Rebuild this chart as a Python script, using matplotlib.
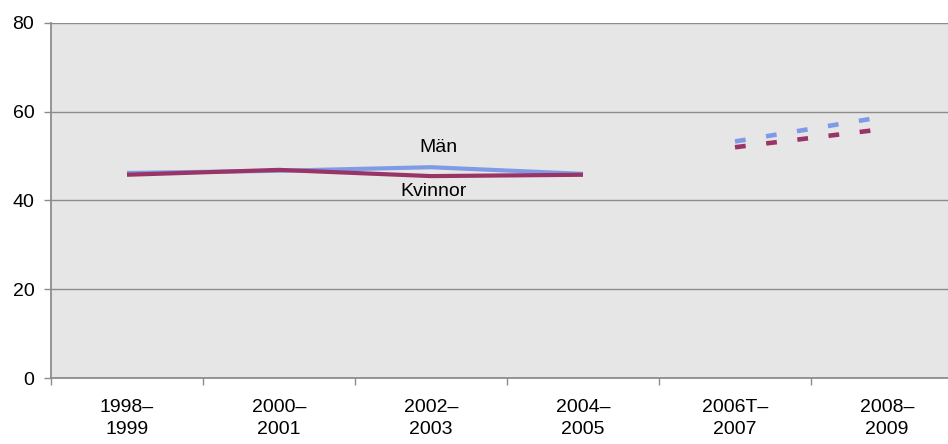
import numpy as np
from matplotlib import pyplot as plt

plt.rcParams['font.family'] = ['Liberation Sans', 'DejaVu Sans']

# data
perioder = ['1998–\n1999', '2000–\n2001', '2002–\n2003', '2004–\n2005', '2006T–\n2007', '2008–\n2009']
man = [46.2, 46.7, 47.5, 46.0, np.nan, np.nan]
kvinnor = [45.8, 46.9, 45.5, 45.8, np.nan, np.nan]
man_prognos = [np.nan, np.nan, np.nan, np.nan, 53.3, 59.0]
kvinnor_prognos = [np.nan, np.nan, np.nan, np.nan, 52.0, 56.2]

blue = '#7f9be6'
red = '#9a3466'
grey = '#8c8c8c'
fs = 14

fig = plt.figure(figsize=(9.48, 4.44), dpi=100)
ax = fig.add_axes([51/948, 66/444, 912/948, 355/444])
ax.set_facecolor('#e6e6e6')

x = np.arange(len(perioder))
ax.plot(x, man, color=blue, lw=3, solid_capstyle='butt', zorder=3)
ax.plot(x, kvinnor, color=red, lw=3, solid_capstyle='butt', zorder=4)
ax.plot(x, man_prognos, color=blue, lw=3.3, dashes=(2.35, 4.5), zorder=3)
ax.plot(x, kvinnor_prognos, color=red, lw=3.3, dashes=(2.35, 4.5), zorder=4)

ax.annotate('Män', xy=(2, man[2]), xytext=(5, 14), textcoords='offset points',
            ha='center', va='center', fontsize=fs)
ax.annotate('Kvinnor', xy=(2, kvinnor[2]), xytext=(1.5, -11), textcoords='offset points',
            ha='center', va='center', fontsize=fs)

ax.set_xlim(-0.5, len(perioder) - 0.5)
ax.set_ylim(0, 80)
ax.set_yticks([0, 20, 40, 60, 80])
ax.yaxis.grid(True, color=grey, lw=1)
ax.set_axisbelow(True)

# ticks at category borders, labels at category centers
ax.set_xticks(np.arange(len(perioder) + 1) - 0.5)
ax.set_xticklabels([])
ax.set_xticks(x, minor=True)
ax.set_xticklabels(perioder, minor=True, fontsize=fs, linespacing=1.4)
ax.tick_params(axis='x', which='major', length=5, color=grey, width=1)
ax.tick_params(axis='x', which='minor', length=0, pad=15)
ax.tick_params(axis='y', length=5, color=grey, width=1, pad=7, labelsize=fs)

for s in ['top', 'right']:
    ax.spines[s].set_visible(False)
for s in ['left', 'bottom']:
    ax.spines[s].set_color(grey)
    ax.spines[s].set_linewidth(1.3)

plt.savefig('out.png', dpi=100)
plt.close()
